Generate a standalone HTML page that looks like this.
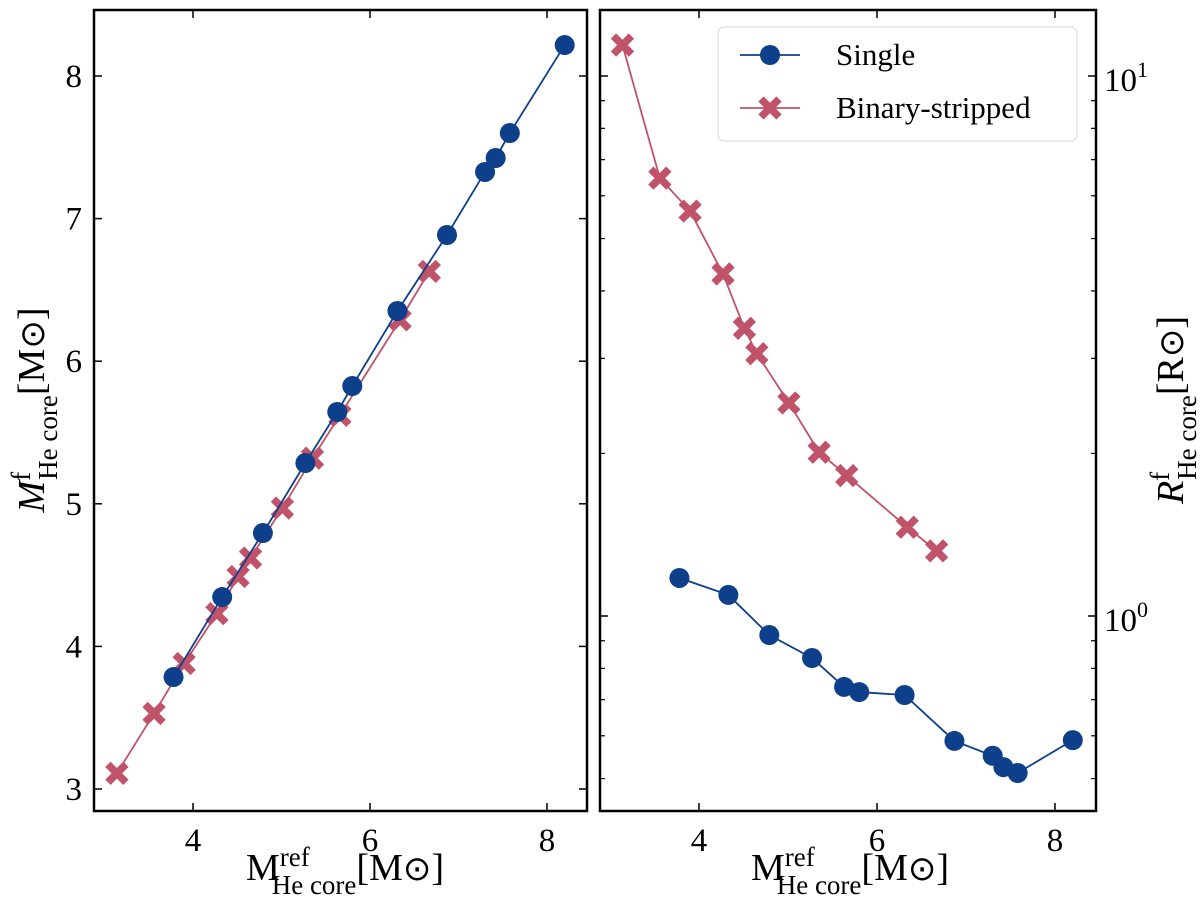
<!DOCTYPE html>
<html><head><meta charset="utf-8"><style>
html,body{margin:0;padding:0;background:#fff;}
svg{display:block;font-family:"Liberation Serif",serif;}
</style></head><body>
<svg id="c" width="1200" height="902" viewBox="0 0 1200 902"></svg>
<script>
const singleX=[3.78,4.33,4.79,5.27,5.63,5.80,6.31,6.87,7.30,7.42,7.58,8.20];
const singleM=[3.785,4.346,4.795,5.286,5.644,5.826,6.352,6.885,7.327,7.425,7.600,8.217];
const singleR=[1.176,1.094,0.922,0.836,0.739,0.723,0.714,0.587,0.551,0.525,0.512,0.589];
const binaryX=[3.14,3.56,3.90,4.27,4.51,4.65,5.01,5.35,5.66,6.34,6.67];
const binaryM=[3.11,3.53,3.88,4.23,4.49,4.62,4.97,5.32,5.62,6.29,6.63];
const binaryR=[11.41,6.47,5.62,4.30,3.41,3.06,2.48,2.01,1.82,1.46,1.32];
const xTicks=[4,6,8];
const mTicks=[3,4,5,6,7,8];
const rTicks=[1,10];
const rTickLabels=["10<tspan dy='-14' font-size='22'>0</tspan>","10<tspan dy='-14' font-size='22'>1</tspan>"];
const rMinor=[0.5,0.6,0.7,0.8,0.9,2,3,4,5,6,7,8,9];

const NS="http://www.w3.org/2000/svg";
const svg=document.getElementById('c');
function mk(tag,attrs,parent){const e=document.createElementNS(NS,tag);for(const k in attrs)e.setAttribute(k,attrs[k]);(parent||svg).appendChild(e);return e;}
const BLUE="#0d3f8a", RED="#c0536a";
const L={x0:94,x1:587,y0:10,y1:811};
const R={x0:600,x1:1096,y0:10,y1:811};
const lx=v=>193+(v-4)*88.5;
const ly=v=>789-(v-3)*142.6;
const rx=v=>699+(v-4)*89;
const ry=v=>616-Math.log10(v)*540;

function frame(P,name){const r=mk('rect',{x:P.x0,y:P.y0,width:P.x1-P.x0,height:P.y1-P.y0,fill:'none',stroke:'#000','stroke-width':2.5});
}
function xAxis(P,fx,name){const g=mk('g',{});
xTicks.forEach(t=>{const x=fx(t);mk('line',{x1:x,x2:x,y1:P.y1,y2:P.y1-8,stroke:'#000','stroke-width':1.5},g);mk('line',{x1:x,x2:x,y1:P.y0,y2:P.y0+8,stroke:'#000','stroke-width':1.5},g);
const tx=mk('text',{x:x,y:P.y1+40,'text-anchor':'middle','font-size':33},g);tx.textContent=t;});}
function series(xs,ys,fx,fy,color,marker,name){const g=mk('g',{});
mk('polyline',{points:xs.map((v,i)=>fx(v)+','+fy(ys[i])).join(' '),fill:'none',stroke:color,'stroke-width':1.8},g);
xs.forEach((v,i)=>{const x=fx(v),y=fy(ys[i]);let m;
if(marker==='o'){m=mk('circle',{cx:x,cy:y,r:10,fill:color},g);}
else{m=mk('path',{d:`M${x-9},${y-9}L${x+9},${y+9}M${x-9},${y+9}L${x+9},${y-9}`,stroke:color,'stroke-width':7.5},g);}
});}

frame(L,'left-panel-frame');frame(R,'right-panel-frame');
xAxis(L,lx,'left-x-axis');xAxis(R,rx,'right-x-axis');
const gly=mk('g',{});
mTicks.forEach(t=>{const y=ly(t);mk('line',{x1:L.x0,x2:L.x0+8,y1:y,y2:y,stroke:'#000','stroke-width':1.5},gly);mk('line',{x1:L.x1,x2:L.x1-8,y1:y,y2:y,stroke:'#000','stroke-width':1.5},gly);
const tx=mk('text',{x:L.x0-12,y:y+11,'text-anchor':'end','font-size':33},gly);tx.textContent=t;});
const gry=mk('g',{});
rTicks.forEach((t,i)=>{const y=ry(t);mk('line',{x1:R.x0,x2:R.x0+8,y1:y,y2:y,stroke:'#000','stroke-width':1.5},gry);mk('line',{x1:R.x1,x2:R.x1-8,y1:y,y2:y,stroke:'#000','stroke-width':1.5},gry);
const tx=mk('text',{x:R.x1+8,y:y+15,'font-size':33},gry);tx.innerHTML=rTickLabels[i];});
rMinor.forEach(t=>{const y=ry(t);mk('line',{x1:R.x0,x2:R.x0+5,y1:y,y2:y,stroke:'#000','stroke-width':1.2},gry);mk('line',{x1:R.x1,x2:R.x1-5,y1:y,y2:y,stroke:'#000','stroke-width':1.2},gry);});

series(binaryX,binaryM,lx,ly,RED,'x','left-binary-series');
series(singleX,singleM,lx,ly,BLUE,'o','left-single-series');
series(binaryX,binaryR,rx,ry,RED,'x','right-binary-series');
series(singleX,singleR,rx,ry,BLUE,'o','right-single-series');

function xlabel(cx,name){const t=mk('text',{x:cx,y:880,'text-anchor':'middle','font-size':38});
t.innerHTML="M<tspan dy='-14' font-size='27'>ref</tspan><tspan dx='-38' dy='28' font-size='27'>He core</tspan><tspan dy='-14'>[M</tspan><tspan font-size='34'>⊙</tspan>]";}
xlabel(345,'left-x-axis-title');xlabel(850,'right-x-axis-title');
const yl=mk('text',{transform:'translate(44,410) rotate(-90)','text-anchor':'middle','font-size':38});

yl.innerHTML="<tspan font-style='italic'>M</tspan><tspan dy='-14' font-size='27'>f</tspan><tspan dx='-8' dy='27' font-size='27'>He core</tspan><tspan dy='-13'>[M</tspan><tspan font-size='34'>⊙</tspan>]";
const yr=mk('text',{transform:'translate(1183,410) rotate(-90)','text-anchor':'middle','font-size':38});

yr.innerHTML="<tspan font-style='italic'>R</tspan><tspan dy='-14' font-size='27'>f</tspan><tspan dx='-8' dy='27' font-size='27'>He core</tspan><tspan dy='-13'>[R</tspan><tspan font-size='34'>⊙</tspan>]";

const lg=mk('g',{});
mk('rect',{x:718,y:27,width:359,height:114,rx:6,fill:'#fff',stroke:'#ddd','stroke-width':1.2},lg);
const e1=mk('g',{},lg);
mk('line',{x1:740,x2:800,y1:55,y2:55,stroke:BLUE,'stroke-width':1.8},e1);mk('circle',{cx:770,cy:55,r:10,fill:BLUE},e1);
const t1=mk('text',{x:836,y:65,'font-size':31},e1);t1.textContent='Single';
const e2=mk('g',{},lg);
mk('line',{x1:740,x2:800,y1:108,y2:108,stroke:RED,'stroke-width':1.8},e2);mk('path',{d:'M761,99L779,117M761,117L779,99',stroke:RED,'stroke-width':7.5},e2);
const t2=mk('text',{x:836,y:118,'font-size':31},e2);t2.textContent='Binary-stripped';
</script>
</body></html>
